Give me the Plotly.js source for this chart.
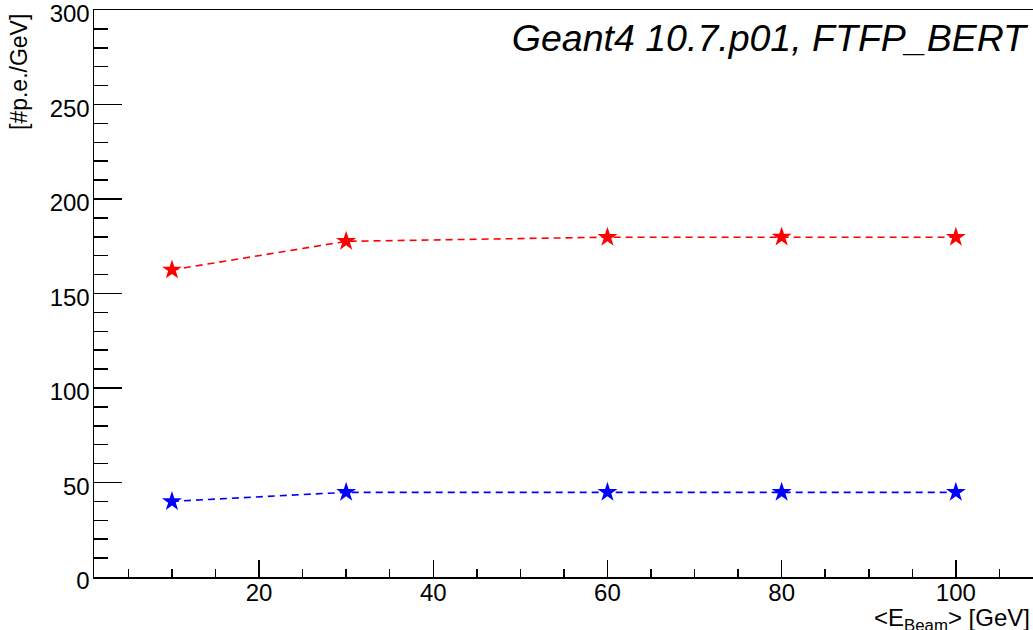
<!DOCTYPE html>
<html>
<head>
<meta charset="utf-8">
<script src="https://cdn.plot.ly/plotly-3.0.1.min.js"></script>
<style>
html,body{margin:0;padding:0;overflow:hidden;background:#fff;}
#chart{width:1045px;height:630px;}
</style>
</head>
<body>
<div id="chart"></div>
<script>
// Data
const beamEnergy = [10, 30, 60, 80, 100];
const redSeries  = [162.5, 177.6, 179.8, 179.9, 179.8];
const blueSeries = [40.0, 44.8, 44.8, 44.8, 44.8];
const chartTitle = "Geant4 10.7.p01, FTFP_BERT";
const xTitle = "&lt;E<sub>Beam</sub>&gt; [GeV]";
const yTitle = "[#p.e./GeV]";

const W = 1045, H = 630;
const M = {l: 94, r: 5, t: 10, b: 53};
const pw = W - M.l - M.r, ph = H - M.t - M.b;
const px2paperX = p => (p - M.l) / pw;
const px2paperY = p => (H - M.b - p) / ph;

const font = "Liberation Sans, Arial, Helvetica, sans-serif";

const traces = [
  {x: beamEnergy, y: redSeries, mode: 'lines+markers', type: 'scatter',
   line: {color: '#ff0000', width: 1.6, dash: '7px,5px'},
   marker: {symbol: 'star', size: 15, color: '#ff0000'}, showlegend: false},
  {x: beamEnergy, y: blueSeries, mode: 'lines+markers', type: 'scatter',
   line: {color: '#0000ff', width: 1.6, dash: '7px,5px'},
   marker: {symbol: 'star', size: 15, color: '#0000ff'}, showlegend: false}
];

const layout = {
  width: W, height: H,
  margin: M,
  paper_bgcolor: '#fff', plot_bgcolor: '#fff',
  font: {family: font, size: 24, color: '#000'},
  title: {text: chartTitle, xref: 'container', yref: 'container',
          x: 1026 / W, xanchor: 'right', y: 1 - 38 / H, yanchor: 'middle',
          font: {family: font, size: 37.5, style: 'italic', color: '#000'}},
  xaxis: {range: [1.05, 1.05 + pw / 8.71], showgrid: false, zeroline: false,
          showline: true, linecolor: '#000', linewidth: 1.5, mirror: true,
          ticks: 'inside', ticklen: 17, tickwidth: 1.5, tickcolor: '#000',
          dtick: 20, tick0: 0, ticklabelstandoff: -6, ticklabeloverflow: 'allow',
          minor: {dtick: 5, tick0: 0, ticks: 'inside', ticklen: 8, tickwidth: 1.5, tickcolor: '#000'},
          tickfont: {family: font, size: 24, color: '#000'}},
  yaxis: {range: [0, 300], showgrid: false, zeroline: false,
          showline: true, linecolor: '#000', linewidth: 1.5, mirror: false,
          ticks: 'inside', ticklen: 28, tickwidth: 1.5, tickcolor: '#000',
          dtick: 50, tick0: 0, ticklabelstandoff: -2, ticklabelshift: 4, ticklabeloverflow: 'allow',
          minor: {dtick: 10, tick0: 0, ticks: 'inside', ticklen: 14, tickwidth: 1.5, tickcolor: '#000'},
          tickfont: {family: font, size: 24, color: '#000'}},
  annotations: [
    {text: xTitle, xref: 'paper', yref: 'paper', x: px2paperX(1032), y: px2paperY(602),
     xanchor: 'right', yanchor: 'top', showarrow: false,
     font: {family: font, size: 24, color: '#000'}},
    {text: yTitle, xref: 'paper', yref: 'paper', x: px2paperX(4), y: px2paperY(12),
     xanchor: 'left', yanchor: 'top', textangle: -90, showarrow: false,
     font: {family: font, size: 23, color: '#000'}}
  ]
};

Plotly.newPlot('chart', traces, layout, {displayModeBar: false, staticPlot: true});
</script>
</body>
</html>
